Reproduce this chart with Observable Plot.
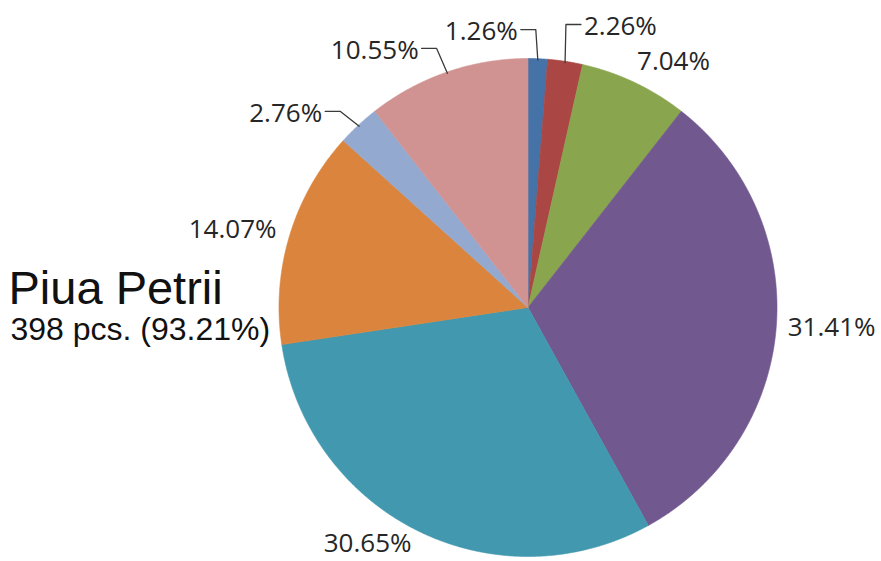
<!DOCTYPE html>
<html><head><meta charset="utf-8">
<script src="https://cdn.jsdelivr.net/npm/d3@7"></script>
<script src="https://cdn.jsdelivr.net/npm/@observablehq/plot@0.6"></script>
<style>html,body{margin:0;padding:0;background:#fff}</style>
</head><body><div id="chart"></div>
<script>
// ---- data ----
const shares = [1.26, 2.26, 7.04, 31.41, 30.65, 14.07, 2.76, 10.55];
const sliceColors = ["#4572A7", "#AA4643", "#89A54E", "#71588F", "#4198AF", "#DB843D", "#93A9CF", "#D19392"];
const shareLabels = ["1.26%", "2.26%", "7.04%", "31.41%", "30.65%", "14.07%", "2.76%", "10.55%"];
const titleText = "Piua Petrii";
const subtitleText = "398 pcs. (93.21%)";

// ---- layout ----
const W = 881, H = 561, CX = 527.5, CY = 307, R = 249;
// label placement: polar angle (deg, clockwise from top), radius factor, leader side
const labelLayout = [
  {a: 350.4, k: 1.124, leader: "right"},
  {a: 18.2,  k: 1.188, leader: "left"},
  {a: 30.6,  k: 1.148},
  {a: 93.8,  k: 1.222},
  {a: 214.2, k: 1.146},
  {a: 284.8, k: 1.227},
  {a: 308.7, k: 1.247, leader: "right"},
  {a: 329.2, k: 1.202, leader: "right"}
];
const labelFont = 26, labelFamily = "Open Sans";

const arcs = d3.pie().sort(null).value(d => d)(shares);
const pt = (ang, r) => [r * Math.sin(ang), -r * Math.cos(ang)];

// slice polygons
const slicePts = [];
arcs.forEach((a, i) => {
  slicePts.push({i, x: 0, y: 0, c: sliceColors[i]});
  const n = Math.max(2, Math.ceil((a.endAngle - a.startAngle) / 0.004));
  for (let j = 0; j <= n; j++) {
    const t = a.startAngle + (a.endAngle - a.startAngle) * j / n;
    const [x, y] = pt(t, 1);
    slicePts.push({i, x, y, c: sliceColors[i]});
  }
  slicePts.push({i, x: 0, y: 0, c: sliceColors[i]});
});

// text measurement
const ctx = document.createElement("canvas").getContext("2d");
ctx.font = `${labelFont}px "${labelFamily}"`;

const labelData = arcs.map((a, i) => {
  const L = labelLayout[i];
  const [x, y] = pt(L.a * Math.PI / 180, L.k);
  return {i, x, y, text: shareLabels[i], w: ctx.measureText(shareLabels[i]).width / R};
});

// leader lines
const leaderPts = [];
arcs.forEach((a, i) => {
  const L = labelLayout[i];
  if (!L.leader) return;
  const d = labelData[i];
  const mid = (a.startAngle + a.endAngle) / 2;
  const [ex, ey] = pt(mid, 0.995);
  const gap = 3 / R, leg = 15 / R, ly = d.y - 2 / R;
  const sx = L.leader === "right" ? d.x + d.w / 2 + gap : d.x - d.w / 2 - gap;
  const bx = L.leader === "right" ? sx + leg : sx - leg;
  leaderPts.push({i, x: sx, y: ly}, {i, x: bx, y: ly}, {i, x: ex, y: ey});
});

const chart = Plot.plot({
  width: W, height: H,
  margin: 0,
  x: {domain: [-CX / R, (W - CX) / R], range: [0, W], axis: null},
  y: {domain: [-CY / R, (H - CY) / R], range: [0, H], axis: null},
  color: {type: "identity"},
  style: {background: "#fff"},
  marks: [
    Plot.line(slicePts, {x: "x", y: "y", z: "i", fill: "c", stroke: "c", strokeWidth: 0.6, curve: "linear"}),
    Plot.line(leaderPts, {x: "x", y: "y", z: "i", stroke: "#3a3a3a", strokeWidth: 1.3, curve: "linear"}),
    Plot.text(labelData, {x: "x", y: "y", text: "text", fontSize: labelFont, fontFamily: labelFamily, fill: "#262626"}),
    Plot.text([titleText], {text: d => d, frameAnchor: "top-left", dx: 8, dy: 270, lineAnchor: "top", textAnchor: "start", fontSize: 47, fontFamily: "Liberation Sans", fill: "#111"}),
    Plot.text([subtitleText], {text: d => d, frameAnchor: "top-left", dx: 10, dy: 317, lineAnchor: "top", textAnchor: "start", fontSize: 32, fontFamily: "Liberation Sans", fill: "#111"})
  ]
});
document.getElementById("chart").appendChild(chart);
</script>
</body></html>
